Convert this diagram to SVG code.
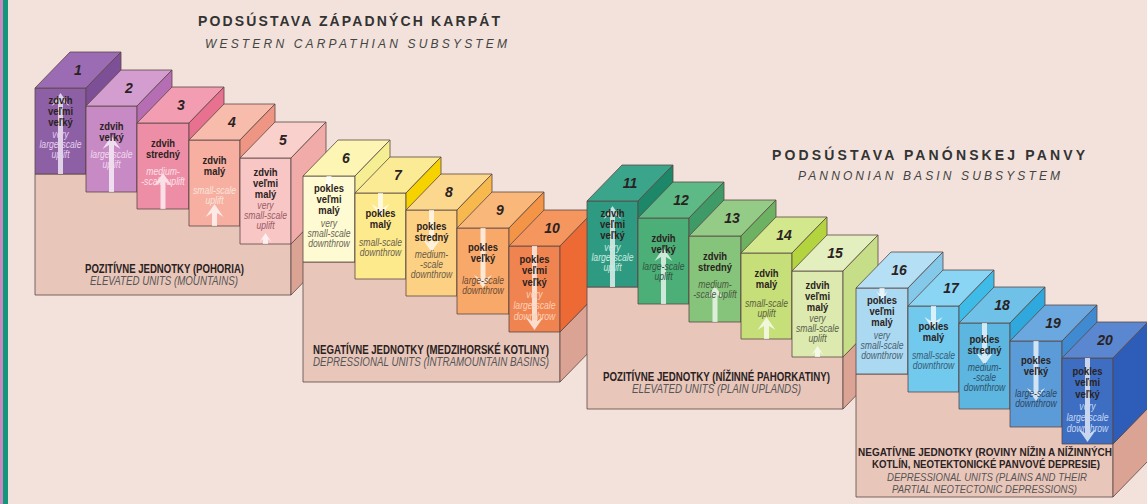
<svg xmlns="http://www.w3.org/2000/svg" width="1147" height="504" viewBox="0 0 1147 504">
<style>
.bg{fill:#F2E2DB}
.e{stroke:#5a4844;stroke-width:0.8;stroke-linejoin:round}
.bf{fill:#E9C6BA}
.bs{fill:#DAA393}
.ar{fill:#ffffff;fill-opacity:0.72}
.num{font-family:"Liberation Sans",Arial,sans-serif;font-weight:bold;font-style:italic;font-size:14px;fill:#2a2222;text-anchor:middle}
.b{font-family:"Liberation Sans",Arial,sans-serif;font-weight:bold;font-size:11.5px;fill:#2b2220;text-anchor:middle}
.i{font-family:"Liberation Sans",Arial,sans-serif;font-style:italic;font-size:10.5px;text-anchor:middle}
.t1{font-family:"Liberation Sans",Arial,sans-serif;font-weight:bold;font-size:14px;fill:#333;}
.t2{font-family:"Liberation Sans",Arial,sans-serif;font-style:italic;font-size:12px;fill:#444;}
.lb{font-family:"Liberation Sans",Arial,sans-serif;font-weight:bold;font-size:12px;fill:#2a2222;text-anchor:middle}
.li{font-family:"Liberation Sans",Arial,sans-serif;font-style:italic;font-size:12px;fill:#555;text-anchor:middle}
.lb4{font-family:"Liberation Sans",Arial,sans-serif;font-weight:bold;font-size:11px;fill:#2a2222;text-anchor:middle}
.li4{font-family:"Liberation Sans",Arial,sans-serif;font-style:italic;font-size:10.5px;fill:#555;text-anchor:middle}
</style>
<rect class="bg" x="0" y="0" width="1147" height="504"/>
<rect x="0" y="0" width="3" height="504" fill="#C98AC0"/>
<rect x="3" y="0" width="5" height="504" fill="#13977A"/>

<g id="titles">
<text class="t1" x="198" y="26" textLength="302" lengthAdjust="spacing">PODSÚSTAVA ZÁPADNÝCH KARPÁT</text>
<text class="t2" x="205" y="48" textLength="302" lengthAdjust="spacing">WESTERN CARPATHIAN SUBSYSTEM</text>
<text class="t1" x="772" y="160" textLength="313" lengthAdjust="spacing">PODSÚSTAVA PANÓNSKEJ PANVY</text>
<text class="t2" x="798" y="180" textLength="262" lengthAdjust="spacing">PANNONIAN BASIN SUBSYSTEM</text>
</g>

<g id="connectors"></g>

<!-- GROUP 1 -->
<g id="base-1">
<rect class="bf e" x="35" y="174" width="256" height="121"/>
<polygon class="bs e" points="291,244 326,208 326,259 291,295"/>
<text class="lb" x="164.5" y="273" textLength="159" lengthAdjust="spacingAndGlyphs">POZITÍVNE JEDNOTKY (POHORIA)</text>
<text class="li" x="164" y="285" textLength="148" lengthAdjust="spacingAndGlyphs">ELEVATED UNITS (MOUNTAINS)</text>
</g>
<g id="block-1">
<rect class="e" x="35" y="88" width="51" height="86" fill="#8D5FA5"/>
<polygon class="e" points="35,88 70,52 121,52 86,88" fill="#9B6CB4"/>
<polygon class="e" points="86,88 121,52 121,138 86,174" fill="#7D4F97"/>
<text class="num" x="78" y="75">1</text>
<path class="ar" d="M60.5,93 L69.5,106 L63,102 L63,174 L58,174 L58,102 L51.5,106 Z"/>
<g transform="translate(60.5 0) scale(0.82 1)"><text class="b" x="0" y="104">zdvih</text><text class="b" x="0" y="115">veľmi</text><text class="b" x="0" y="126">veľký</text><g fill="#E6CFEE"><text class="i" x="0" y="138">very</text><text class="i" x="0" y="148">large-scale</text><text class="i" x="0" y="158">uplift</text></g></g>
</g>
<g id="block-2">
<rect class="e" x="86" y="106" width="51" height="86" fill="#C78AC4"/>
<polygon class="e" points="86,106 121,70 172,70 137,106" fill="#D49DD0"/>
<polygon class="e" points="137,106 172,70 172,156 137,192" fill="#B56DB3"/>
<text class="num" x="129" y="93">2</text>
<path class="ar" d="M111.5,136 L120.5,149 L114,145 L114,192 L109,192 L109,145 L102.5,149 Z"/>
<g transform="translate(111.5 0) scale(0.82 1)"><text class="b" x="0" y="130">zdvih</text><text class="b" x="0" y="141">veľký</text><g fill="#F2D8EE"><text class="i" x="0" y="158">large-scale</text><text class="i" x="0" y="168">uplift</text></g></g>
</g>
<g id="block-3">
<rect class="e" x="137" y="123" width="52" height="86" fill="#EE8EA6"/>
<polygon class="e" points="137,123 172,87 224,87 189,123" fill="#F29DB2"/>
<polygon class="e" points="189,123 224,87 224,173 189,209" fill="#E7718F"/>
<text class="num" x="181" y="110">3</text>
<path class="ar" d="M163,173 L172,186 L165.5,182 L165.5,209 L160.5,209 L160.5,182 L154,186 Z"/>
<g transform="translate(163 0) scale(0.82 1)"><text class="b" x="0" y="147">zdvih</text><text class="b" x="0" y="158">stredný</text><g fill="#FBE0E6"><text class="i" x="0" y="175">medium-</text><text class="i" x="0" y="185">-scale uplift</text></g></g>
</g>
<g id="block-4">
<rect class="e" x="189" y="140" width="51" height="86" fill="#F6AFA0"/>
<polygon class="e" points="189,140 224,104 275,104 240,140" fill="#F7BCAC"/>
<polygon class="e" points="240,140 275,104 275,190 240,226" fill="#EF9584"/>
<text class="num" x="232" y="127">4</text>
<path class="ar" d="M214.5,204 L223.5,217 L217,213 L217,226 L212,226 L212,213 L205.5,217 Z"/>
<g transform="translate(214.5 0) scale(0.82 1)"><text class="b" x="0" y="164">zdvih</text><text class="b" x="0" y="175">malý</text><g fill="#FBE4DC"><text class="i" x="0" y="194">small-scale</text><text class="i" x="0" y="204">uplift</text></g></g>
</g>
<g id="block-5">
<rect class="e" x="240" y="158" width="51" height="86" fill="#F8C7C5"/>
<polygon class="e" points="240,158 275,122 326,122 291,158" fill="#F9D0CC"/>
<polygon class="e" points="291,158 326,122 326,208 291,244" fill="#F1ABA8"/>
<text class="num" x="283" y="145">5</text>
<path class="ar" d="M265.5,233 L271.5,242 L268,239 L268,244 L263,244 L263,239 L259.5,242 Z"/>
<g transform="translate(265.5 0) scale(0.82 1)"><text class="b" x="0" y="176">zdvih</text><text class="b" x="0" y="187">veľmi</text><text class="b" x="0" y="198">malý</text><g fill="#9B5A66"><text class="i" x="0" y="209">very</text><text class="i" x="0" y="219">small-scale</text><text class="i" x="0" y="229">uplift</text></g></g>
</g>

<!-- GROUP 2 -->
<g id="base-2">
<rect class="bf e" x="303" y="262" width="257" height="120"/>
<polygon class="bs e" points="560,332 595,296 595,346 560,382"/>
<text class="lb" x="431" y="354" textLength="236" lengthAdjust="spacingAndGlyphs">NEGATÍVNE JEDNOTKY (MEDZIHORSKÉ KOTLINY)</text>
<text class="li" x="431" y="366" textLength="236" lengthAdjust="spacingAndGlyphs">DEPRESSIONAL UNITS (INTRAMOUNTAIN BASINS)</text>
</g>
<g id="block-6">
<rect class="e" x="303" y="176" width="52" height="86" fill="#FEFBD2"/>
<polygon class="e" points="303,176 338,140 390,140 355,176" fill="#FCF5B4"/>
<polygon class="e" points="355,176 390,140 390,226 355,262" fill="#F6EE92"/>
<text class="num" x="346" y="163">6</text>
<path class="ar" d="M329,188 L335,179 L331.5,182 L331.5,176 L326.5,176 L326.5,182 L323,179 Z"/>
<g transform="translate(329 0) scale(0.82 1)"><text class="b" x="0" y="192">pokles</text><text class="b" x="0" y="203">veľmi</text><text class="b" x="0" y="214">malý</text><g fill="#6B6656"><text class="i" x="0" y="227">very</text><text class="i" x="0" y="237">small-scale</text><text class="i" x="0" y="247">downthrow</text></g></g>
</g>
<g id="block-7">
<rect class="e" x="355" y="193" width="51" height="86" fill="#FDEA8C"/>
<polygon class="e" points="355,193 390,157 441,157 406,193" fill="#FCEB95"/>
<polygon class="e" points="406,193 441,157 441,243 406,279" fill="#F6D300"/>
<text class="num" x="398" y="180">7</text>
<path class="ar" d="M380.5,217 L389.5,204 L383,208 L383,193 L378,193 L378,208 L371.5,204 Z"/>
<g transform="translate(380.5 0) scale(0.82 1)"><text class="b" x="0" y="217">pokles</text><text class="b" x="0" y="228">malý</text><g fill="#6B6050"><text class="i" x="0" y="246">small-scale</text><text class="i" x="0" y="256">downthrow</text></g></g>
</g>
<g id="block-8">
<rect class="e" x="406" y="210" width="51" height="86" fill="#FDD184"/>
<polygon class="e" points="406,210 441,174 492,174 457,210" fill="#FCD78E"/>
<polygon class="e" points="457,210 492,174 492,260 457,296" fill="#F7B84E"/>
<text class="num" x="449" y="197">8</text>
<path class="ar" d="M431.5,252 L440.5,239 L434,243 L434,210 L429,210 L429,243 L422.5,239 Z"/>
<g transform="translate(431.5 0) scale(0.82 1)"><text class="b" x="0" y="230">pokles</text><text class="b" x="0" y="241">stredný</text><g fill="#6B5A44"><text class="i" x="0" y="258">medium-</text><text class="i" x="0" y="268">-scale</text><text class="i" x="0" y="278">downthrow</text></g></g>
</g>
<g id="block-9">
<rect class="e" x="457" y="228" width="52" height="86" fill="#F8A96A"/>
<polygon class="e" points="457,228 492,192 544,192 509,228" fill="#F9B87A"/>
<polygon class="e" points="509,228 544,192 544,278 509,314" fill="#F39447"/>
<text class="num" x="500" y="215">9</text>
<path class="ar" d="M483,288 L492,275 L485.5,279 L485.5,228 L480.5,228 L480.5,279 L474,275 Z"/>
<g transform="translate(483 0) scale(0.82 1)"><text class="b" x="0" y="251">pokles</text><text class="b" x="0" y="262">veľký</text><g fill="#6A4A34"><text class="i" x="0" y="284">large-scale</text><text class="i" x="0" y="294">downthrow</text></g></g>
</g>
<g id="block-10">
<rect class="e" x="509" y="246" width="51" height="86" fill="#F08450"/>
<polygon class="e" points="509,246 544,210 595,210 560,246" fill="#F4965E"/>
<polygon class="e" points="560,246 595,210 595,296 560,332" fill="#EE6A34"/>
<text class="num" x="552" y="233">10</text>
<path class="ar" d="M534.5,330 L543.5,317 L537,321 L537,246 L532,246 L532,321 L525.5,317 Z"/>
<g transform="translate(534.5 0) scale(0.82 1)"><text class="b" x="0" y="263">pokles</text><text class="b" x="0" y="274">veľmi</text><text class="b" x="0" y="286">veľký</text><g fill="#FBD0B8"><text class="i" x="0" y="298">very</text><text class="i" x="0" y="309">large-scale</text><text class="i" x="0" y="320">downthrow</text></g></g>
</g>

<!-- GROUP 3 -->
<g id="base-3">
<rect class="bf e" x="587" y="287" width="256" height="122"/>
<polygon class="bs e" points="843,357 878,321 878,373 843,409"/>
<text class="lb" x="716.5" y="381" textLength="227" lengthAdjust="spacingAndGlyphs">POZITÍVNE JEDNOTKY (NÍŽINNÉ PAHORKATINY)</text>
<text class="li" x="716.5" y="393" textLength="169" lengthAdjust="spacingAndGlyphs">ELEVATED UNITS (PLAIN UPLANDS)</text>
</g>
<g id="block-11">
<rect class="e" x="587" y="201" width="51" height="86" fill="#2F9A82"/>
<polygon class="e" points="587,201 622,165 673,165 638,201" fill="#3BA58B"/>
<polygon class="e" points="638,201 673,165 673,251 638,287" fill="#1C8769"/>
<text class="num" x="630" y="188">11</text>
<path class="ar" d="M612.5,206 L621.5,219 L615,215 L615,287 L610,287 L610,215 L603.5,219 Z"/>
<g transform="translate(612.5 0) scale(0.82 1)"><text class="b" x="0" y="217">zdvih</text><text class="b" x="0" y="228">veľmi</text><text class="b" x="0" y="239">veľký</text><g fill="#CDEBE0"><text class="i" x="0" y="251">very</text><text class="i" x="0" y="261">large-scale</text><text class="i" x="0" y="271">uplift</text></g></g>
</g>
<g id="block-12">
<rect class="e" x="638" y="218" width="51" height="86" fill="#4DAF78"/>
<polygon class="e" points="638,218 673,182 724,182 689,218" fill="#5DB985"/>
<polygon class="e" points="689,218 724,182 724,268 689,304" fill="#3E9B67"/>
<text class="num" x="681" y="205">12</text>
<path class="ar" d="M663.5,248 L672.5,261 L666,257 L666,304 L661,304 L661,257 L654.5,261 Z"/>
<g transform="translate(663.5 0) scale(0.82 1)"><text class="b" x="0" y="242">zdvih</text><text class="b" x="0" y="253">veľký</text><g fill="#2F5540"><text class="i" x="0" y="270">large-scale</text><text class="i" x="0" y="280">uplift</text></g></g>
</g>
<g id="block-13">
<rect class="e" x="689" y="236" width="52" height="86" fill="#86C47B"/>
<polygon class="e" points="689,236 724,200 776,200 741,236" fill="#93CB87"/>
<polygon class="e" points="741,236 776,200 776,286 741,322" fill="#6DB262"/>
<text class="num" x="732" y="223">13</text>
<path class="ar" d="M715,286 L724,299 L717.5,295 L717.5,322 L712.5,322 L712.5,295 L706,299 Z"/>
<g transform="translate(715 0) scale(0.82 1)"><text class="b" x="0" y="260">zdvih</text><text class="b" x="0" y="271">stredný</text><g fill="#4A5A40"><text class="i" x="0" y="288">medium-</text><text class="i" x="0" y="298">-scale uplift</text></g></g>
</g>
<g id="block-14">
<rect class="e" x="741" y="253" width="51" height="86" fill="#C6DF78"/>
<polygon class="e" points="741,253 776,217 827,217 792,253" fill="#D3E88C"/>
<polygon class="e" points="792,253 827,217 827,303 792,339" fill="#B3D43F"/>
<text class="num" x="784" y="240">14</text>
<path class="ar" d="M766.5,317 L775.5,330 L769,326 L769,339 L764,339 L764,326 L757.5,330 Z"/>
<g transform="translate(766.5 0) scale(0.82 1)"><text class="b" x="0" y="277">zdvih</text><text class="b" x="0" y="288">malý</text><g fill="#5A6040"><text class="i" x="0" y="307">small-scale</text><text class="i" x="0" y="317">uplift</text></g></g>
</g>
<g id="block-15">
<rect class="e" x="792" y="271" width="51" height="86" fill="#DCEAB0"/>
<polygon class="e" points="792,271 827,235 878,235 843,271" fill="#E4EFC0"/>
<polygon class="e" points="843,271 878,235 878,321 843,357" fill="#C6DE87"/>
<text class="num" x="835" y="258">15</text>
<path class="ar" d="M817.5,346 L823.5,355 L820,352 L820,357 L815,357 L815,352 L811.5,355 Z"/>
<g transform="translate(817.5 0) scale(0.82 1)"><text class="b" x="0" y="289">zdvih</text><text class="b" x="0" y="300">veľmi</text><text class="b" x="0" y="311">malý</text><g fill="#5A6048"><text class="i" x="0" y="322">very</text><text class="i" x="0" y="332">small-scale</text><text class="i" x="0" y="342">uplift</text></g></g>
</g>

<!-- GROUP 4 -->
<g id="base-4">
<rect class="bf e" x="856" y="374" width="257" height="123"/>
<polygon class="bs e" points="1113,444 1148,408 1148,461 1113,497"/>
<text class="lb4" x="985" y="456" textLength="254" lengthAdjust="spacingAndGlyphs">NEGATÍVNE JEDNOTKY (ROVINY NÍŽIN A NÍŽINNÝCH</text>
<text class="lb4" x="986" y="468" textLength="228" lengthAdjust="spacingAndGlyphs">KOTLÍN, NEOTEKTONICKÉ PANVOVÉ DEPRESIE)</text>
<text class="li4" x="987" y="480.5" textLength="200" lengthAdjust="spacingAndGlyphs">DEPRESSIONAL UNITS (PLAINS AND THEIR</text>
<text class="li4" x="984.5" y="492.5" textLength="185" lengthAdjust="spacingAndGlyphs">PARTIAL NEOTECTONIC DEPRESSIONS)</text>
</g>
<g id="block-16">
<rect class="e" x="856" y="288" width="52" height="86" fill="#AAD9F1"/>
<polygon class="e" points="856,288 891,252 943,252 908,288" fill="#B5DFF4"/>
<polygon class="e" points="908,288 943,252 943,338 908,374" fill="#85C9EA"/>
<text class="num" x="899" y="275">16</text>
<path class="ar" d="M882,300 L888,291 L884.5,294 L884.5,288 L879.5,288 L879.5,294 L876,291 Z"/>
<g transform="translate(882 0) scale(0.82 1)"><text class="b" x="0" y="304">pokles</text><text class="b" x="0" y="315">veľmi</text><text class="b" x="0" y="326">malý</text><g fill="#4A6070"><text class="i" x="0" y="339">very</text><text class="i" x="0" y="349">small-scale</text><text class="i" x="0" y="359">downthrow</text></g></g>
</g>
<g id="block-17">
<rect class="e" x="908" y="306" width="51" height="86" fill="#71C9EE"/>
<polygon class="e" points="908,306 943,270 994,270 959,306" fill="#8AD5F3"/>
<polygon class="e" points="959,306 994,270 994,356 959,392" fill="#3FBBE8"/>
<text class="num" x="951" y="293">17</text>
<path class="ar" d="M933.5,330 L942.5,317 L936,321 L936,306 L931,306 L931,321 L924.5,317 Z"/>
<g transform="translate(933.5 0) scale(0.82 1)"><text class="b" x="0" y="330">pokles</text><text class="b" x="0" y="341">malý</text><g fill="#3A5A70"><text class="i" x="0" y="359">small-scale</text><text class="i" x="0" y="369">downthrow</text></g></g>
</g>
<g id="block-18">
<rect class="e" x="959" y="323" width="51" height="86" fill="#5DB6E0"/>
<polygon class="e" points="959,323 994,287 1045,287 1010,323" fill="#6FC1E7"/>
<polygon class="e" points="1010,323 1045,287 1045,373 1010,409" fill="#2FA9DD"/>
<text class="num" x="1002" y="310">18</text>
<path class="ar" d="M984.5,365 L993.5,352 L987,356 L987,323 L982,323 L982,356 L975.5,352 Z"/>
<g transform="translate(984.5 0) scale(0.82 1)"><text class="b" x="0" y="343">pokles</text><text class="b" x="0" y="354">stredný</text><g fill="#2F4F68"><text class="i" x="0" y="371">medium-</text><text class="i" x="0" y="381">-scale</text><text class="i" x="0" y="391">downthrow</text></g></g>
</g>
<g id="block-19">
<rect class="e" x="1010" y="341" width="52" height="86" fill="#5B9CD8"/>
<polygon class="e" points="1010,341 1045,305 1097,305 1062,341" fill="#6BA8DF"/>
<polygon class="e" points="1062,341 1097,305 1097,391 1062,427" fill="#3F8AD0"/>
<text class="num" x="1053" y="328">19</text>
<path class="ar" d="M1036,401 L1045,388 L1038.5,392 L1038.5,341 L1033.5,341 L1033.5,392 L1027,388 Z"/>
<g transform="translate(1036 0) scale(0.82 1)"><text class="b" x="0" y="364">pokles</text><text class="b" x="0" y="375">veľký</text><g fill="#2F4560"><text class="i" x="0" y="397">large-scale</text><text class="i" x="0" y="407">downthrow</text></g></g>
</g>
<g id="block-20">
<rect class="e" x="1062" y="358" width="51" height="86" fill="#3D6EC2"/>
<polygon class="e" points="1062,358 1097,322 1148,322 1113,358" fill="#5A87CF"/>
<polygon class="e" points="1113,358 1148,322 1148,408 1113,444" fill="#2D5DB8"/>
<text class="num" x="1105" y="345">20</text>
<path class="ar" d="M1087.5,442 L1096.5,429 L1090,433 L1090,358 L1085,358 L1085,433 L1078.5,429 Z"/>
<g transform="translate(1087.5 0) scale(0.82 1)"><text class="b" x="0" y="375">pokles</text><text class="b" x="0" y="386">veľmi</text><text class="b" x="0" y="398">veľký</text><g fill="#C8D8F2"><text class="i" x="0" y="410">very</text><text class="i" x="0" y="421">large-scale</text><text class="i" x="0" y="432">downthrow</text></g></g>
</g>
</svg>
